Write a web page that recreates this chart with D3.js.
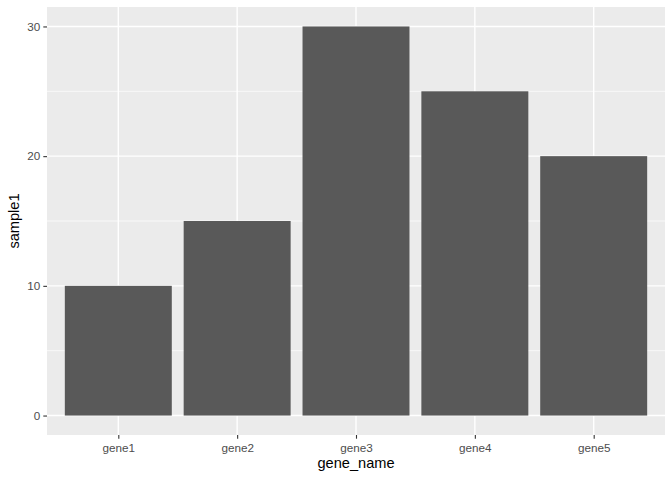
<!DOCTYPE html>
<html><head><meta charset="utf-8">
<script src="https://cdn.jsdelivr.net/npm/d3@7"></script>
<style>body{margin:0;background:#fff}svg{display:block}</style>
</head><body>
<script>
const categories = ["gene1","gene2","gene3","gene4","gene5"];
const values = [10,15,30,25,20];
const yTicks = [0,10,20,30];
const yMinor = [5,15,25];

const W=672,H=480;
const m={left:47,right:7,top:7,bottom:45};
const pw=W-m.left-m.right, ph=H-m.top-m.bottom;
const svg=d3.select("body").append("svg").attr("width",W).attr("height",H);
svg.append("rect").attr("width",W).attr("height",H).attr("fill","#fff");
const g=svg.append("g").attr("transform",`translate(${m.left},${m.top})`);

const y=d3.scaleLinear().domain([-1.5,31.5]).range([ph,0]);
const xc=d3.scaleLinear().domain([0.4,5.6]).range([0,pw]);
const x=c=>xc(categories.indexOf(c)+1);
const bw=xc(1.9)-xc(1);

g.append("rect").attr("width",pw).attr("height",ph).attr("fill","#EBEBEB");
g.selectAll(".ymin").data(yMinor).join("line").attr("x1",0).attr("x2",pw)
 .attr("y1",d=>y(d)).attr("y2",d=>y(d)).attr("stroke","#fff").attr("stroke-width",0.7);
g.selectAll(".ymaj").data(yTicks).join("line").attr("x1",0).attr("x2",pw)
 .attr("y1",d=>y(d)).attr("y2",d=>y(d)).attr("stroke","#fff").attr("stroke-width",1.4);
g.selectAll(".xmaj").data(categories).join("line").attr("y1",0).attr("y2",ph)
 .attr("x1",d=>x(d)).attr("x2",d=>x(d)).attr("stroke","#fff").attr("stroke-width",1.4);

g.selectAll(".bar").data(categories).join("rect")
 .attr("x",d=>x(d)-bw/2).attr("width",bw)
 .attr("y",(d,i)=>y(values[i])).attr("height",(d,i)=>y(0)-y(values[i]))
 .attr("fill","#595959");

const ya=g.append("g").call(d3.axisLeft(y).tickValues(yTicks).tickSize(3.7).tickPadding(3));
const xa=g.append("g").attr("transform",`translate(0,${ph})`)
 .call(d3.axisBottom(d3.scalePoint().domain(categories).range([x(categories[0]),x(categories[4])])).tickSize(3.7).tickPadding(3));
[ya,xa].forEach(a=>{
 a.select(".domain").remove();
 a.selectAll(".tick line").attr("stroke","#333").attr("stroke-width",1.1);
 a.selectAll("text").attr("fill","#4D4D4D").style("font-family","Liberation Sans, Arial, sans-serif").style("font-size","11.7px");
});
xa.selectAll("text").attr("dy","0.9em");

svg.append("text").attr("x",m.left+pw/2).attr("y",468).attr("text-anchor","middle")
 .style("font-family","Liberation Sans, Arial, sans-serif").style("font-size","14.6px").attr("fill","#000").text("gene_name");
svg.append("text").attr("transform",`translate(18.5,${m.top+ph/2}) rotate(-90)`).attr("text-anchor","middle")
 .style("font-family","Liberation Sans, Arial, sans-serif").style("font-size","14.6px").attr("fill","#000").text("sample1");
</script>
</body></html>
